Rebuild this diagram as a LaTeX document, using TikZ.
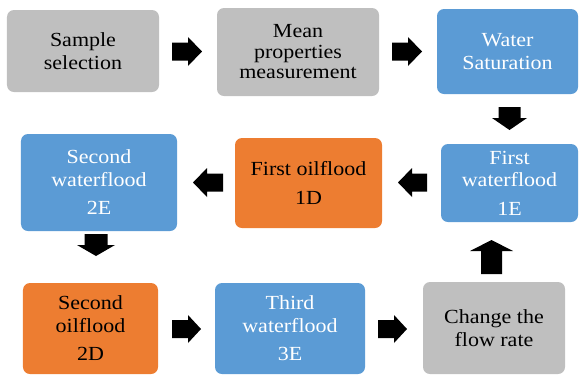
\documentclass[tikz,border=0pt]{standalone}
\usepackage{fontspec}
\setmainfont{Liberation Serif}[FakeStretch=1.1]
\definecolor{boxgray}{HTML}{BFBFBF}
\definecolor{boxblue}{HTML}{5B9BD5}
\definecolor{boxorange}{HTML}{ED7D31}
\tikzset{
  box/.style={rounded corners=7bp, inner sep=0pt, align=center,
    font=\fontsize{20bp}{22.5bp}\selectfont},
  graybox/.style={box, fill=boxgray, text=black},
  bluebox/.style={box, fill=boxblue, text=white},
  orangebox/.style={box, fill=boxorange, text=black},
  pics/blockarrow/.style n args={4}{code={
    \fill[black] (-#1/2,-#3/2) -- (#1/2-#4,-#3/2) -- (#1/2-#4,-#2/2) -- (#1/2,0)
      -- (#1/2-#4,#2/2) -- (#1/2-#4,#3/2) -- (-#1/2,#3/2) -- cycle;}}
}
\begin{document}
\begin{tikzpicture}[x=1bp,y=-1bp]
\useasboundingbox (0,0) rectangle (579,375);
% row 1
\node[graybox, minimum width=152bp, minimum height=82bp] (s1) at (83,51) {Sample\\selection};
\node[graybox, minimum width=162bp, minimum height=88bp] (s2) at (298,52) {Mean\\[-2bp]properties\\[-2bp]measurement};
\node[bluebox, minimum width=141bp, minimum height=85bp] (s3) at (507.5,51.5) {Water\\Saturation};
% row 2
\node[bluebox, minimum width=137bp, minimum height=78bp] (s4) at (509.5,183) {First\\waterflood\\[6bp]1E};
\node[orangebox, minimum width=147bp, minimum height=90bp] (s5) at (308.5,183) {First oilflood\\[6bp]1D};
\node[bluebox, minimum width=156bp, minimum height=97bp] (s6) at (99,182.5) {Second\\waterflood\\[6bp]2E};
% row 3
\node[orangebox, minimum width=135bp, minimum height=91bp] (s7) at (90.5,328.5) {Second\\oilflood\\[6bp]2D};
\node[bluebox, minimum width=150bp, minimum height=91bp] (s8) at (290,328.5) {Third\\waterflood\\[6bp]3E};
\node[graybox, minimum width=142bp, minimum height=92bp] (s9) at (494,328) {Change the\\flow rate};
% block arrows
\pic at (187,51.5) {blockarrow={30}{29}{18}{14}};
\pic at (407,51.5) {blockarrow={30}{29}{18}{14}};
\pic[rotate=-90] at (509.5,118.5) {blockarrow={23}{35}{22}{12}};
\pic[rotate=180] at (412.5,182.5) {blockarrow={29}{29}{18}{14}};
\pic[rotate=180] at (208,182.5) {blockarrow={30}{29}{18}{14}};
\pic[rotate=-90] at (96,245) {blockarrow={22}{38}{23}{11}};
\pic at (186.5,329) {blockarrow={29}{28}{18}{13}};
\pic at (392.5,329) {blockarrow={29}{28}{18}{13}};
\pic[rotate=90] at (491.5,257) {blockarrow={34}{43}{21}{11}};
\end{tikzpicture}
\end{document}
